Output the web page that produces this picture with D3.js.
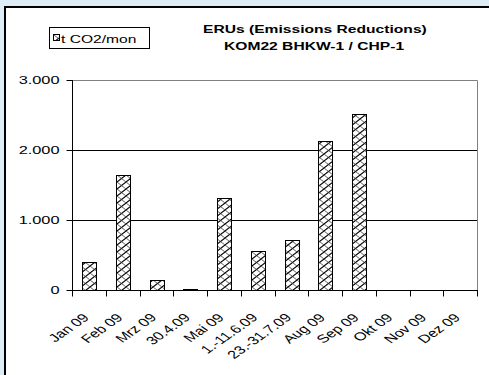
<!DOCTYPE html>
<html>
<head>
<meta charset="utf-8">
<script src="https://cdn.jsdelivr.net/npm/d3@7"></script>
<style>
  html, body { margin: 0; padding: 0; background: #dcedf6; overflow: hidden; }
  svg { display: block; }
  text { font-family: Arial, "Liberation Sans", sans-serif; fill: #000; }
</style>
</head>
<body>
<svg id="chart" width="489" height="375"></svg>
<script>
// Monthly emission reductions of the CHP unit
const categories = ["Jan 09", "Feb 09", "Mrz 09", "30.4.09", "Mai 09", "1.-11.6.09",
                    "23.-31.7.09", "Aug 09", "Sep 09", "Okt 09", "Nov 09", "Dez 09"];
const values = [405, 1640, 150, 12, 1320, 555, 710, 2130, 2520, 0, 0, 0];
const yTickValues = [0, 1000, 2000, 3000];
const seriesName = "t CO2/mon";
const titleLines = ["ERUs (Emissions Reductions)", "KOM22 BHKW-1 / CHP-1"];

const W = 489, H = 375;
const STRETCH = 1.42;           // wide text rendering of the original sheet
const plot = { left: 72, right: 477, top: 80, bottom: 290 };

const svg = d3.select("#chart");

// hatch fill for the bars
const defs = svg.append("defs");
const pat = defs.append("pattern")
  .attr("id", "hatch").attr("patternUnits", "userSpaceOnUse")
  .attr("width", 9).attr("height", 7);
pat.append("rect").attr("width", 9).attr("height", 7).attr("fill", "#fff");
pat.append("path").attr("d", "M-1,7.78 L10,-0.78").attr("stroke", "#000").attr("stroke-width", 1.1);
pat.append("path").attr("d", "M0,0 L9,7").attr("stroke", "#333").attr("stroke-width", 0.8);

// chart panel
svg.append("rect").attr("x", 4).attr("y", 6).attr("width", W - 4).attr("height", H - 6)
  .attr("fill", "#fff");
svg.append("path").attr("d", `M5,${H} L5,7 L${W},7`)
  .attr("fill", "none").attr("stroke", "#000").attr("stroke-width", 2);

const x = d3.scaleBand().domain(categories)
  .range([plot.left, plot.right]).paddingInner(0.6).paddingOuter(0.3);
const y = d3.scaleLinear().domain([0, 3000]).range([plot.bottom, plot.top]);

const fmt = d3.formatLocale({ decimal: ",", thousands: ".", grouping: [3], currency: ["", " €"] }).format(",.0f");

// plot area border
svg.append("path")
  .attr("d", `M${plot.left},${plot.top + 0.5} L${plot.right + 0.5},${plot.top + 0.5} L${plot.right + 0.5},${plot.bottom}`)
  .attr("fill", "none").attr("stroke", "#808080").attr("stroke-width", 1);

// gridlines
svg.append("g").selectAll("line")
  .data(yTickValues.filter(v => v > 0 && v < 3000))
  .join("line")
  .attr("x1", plot.left).attr("x2", plot.right)
  .attr("y1", d => Math.round(y(d)) + 0.5).attr("y2", d => Math.round(y(d)) + 0.5)
  .attr("stroke", "#000").attr("stroke-width", 1);

// bars
svg.append("g").selectAll("rect")
  .data(values.map((v, i) => ({ c: categories[i], v })).filter(d => d.v > 0))
  .join("rect")
  .attr("x", d => Math.round(x(d.c)) + 0.5)
  .attr("y", d => Math.round(y(d.v)) + 0.5)
  .attr("width", Math.round(x.bandwidth()))
  .attr("height", d => Math.max(0, Math.round(y(0)) - Math.round(y(d.v))))
  .attr("fill", "url(#hatch)").attr("stroke", "#000").attr("stroke-width", 1);

// y axis
const yAxis = svg.append("g").attr("transform", `translate(${plot.left + 0.5},0)`);
yAxis.append("line").attr("y1", plot.top).attr("y2", plot.bottom).attr("stroke", "#000");
yAxis.selectAll("line.tick").data(yTickValues).join("line").attr("class", "tick")
  .attr("x1", -6).attr("x2", 0)
  .attr("y1", d => Math.round(y(d)) + 0.5).attr("y2", d => Math.round(y(d)) + 0.5)
  .attr("stroke", "#000");
yAxis.selectAll("text").data(yTickValues).join("text")
  .attr("transform", d => `translate(-13,${y(d) + 4}) scale(${STRETCH},1)`)
  .attr("text-anchor", "end").attr("font-size", "11.5px")
  .text(d => fmt(d));

// x axis with ticks between categories
const step = x.step();
const xAxis = svg.append("g").attr("transform", `translate(0,${Math.round(plot.bottom) + 0.5})`);
xAxis.append("line").attr("x1", plot.left).attr("x2", plot.right + 1).attr("stroke", "#000");
xAxis.selectAll("line.tick").data(d3.range(categories.length + 1)).join("line").attr("class", "tick")
  .attr("x1", i => Math.round(plot.left + i * step) + 0.5)
  .attr("x2", i => Math.round(plot.left + i * step) + 0.5)
  .attr("y1", 0).attr("y2", 6).attr("stroke", "#000");
xAxis.selectAll("text").data(categories).join("text")
  .attr("transform", d => `translate(${x(d) + x.bandwidth() / 2 - 3},25) scale(${STRETCH},1) rotate(-45)`)
  .attr("text-anchor", "end").attr("dy", "0.35em").attr("font-size", "11.5px")
  .text(d => d);

// title
const title = svg.append("g");
title.append("text").attr("transform", `translate(203,33) scale(${STRETCH},1)`)
  .attr("font-size", "11px").attr("font-weight", "bold").text(titleLines[0]);
title.append("text").attr("transform", `translate(224,50) scale(${STRETCH},1)`)
  .attr("font-size", "11px").attr("font-weight", "bold").text(titleLines[1]);

// legend
const lg = svg.append("g");
lg.append("rect").attr("x", 49.5).attr("y", 27.5).attr("width", 100).attr("height", 21)
  .attr("fill", "#fff").attr("stroke", "#000");
lg.append("rect").attr("x", 53.5).attr("y", 34.5).attr("width", 6).attr("height", 6)
  .attr("fill", "url(#hatch)").attr("stroke", "#000");
lg.append("text").attr("transform", `translate(61,43) scale(${STRETCH},1)`)
  .attr("font-size", "11px").text(seriesName);
</script>
</body>
</html>
